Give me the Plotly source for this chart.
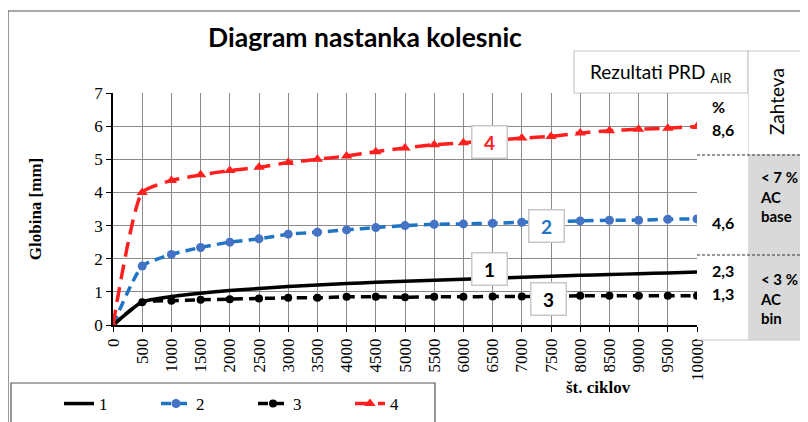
import plotly.graph_objects as go

# ---------------- data ----------------
cycles = [0, 500, 1000, 1500, 2000, 2500, 3000, 3500, 4000, 4500, 5000,
          5500, 6000, 6500, 7000, 7500, 8000, 8500, 9000, 9500, 10000]
s1 = [0, 0.70, 0.86, 0.96, 1.04, 1.10, 1.16, 1.21, 1.25, 1.29, 1.32,
      1.35, 1.38, 1.41, 1.44, 1.47, 1.50, 1.52, 1.55, 1.57, 1.60]
s2 = [0, 1.78, 2.13, 2.34, 2.50, 2.60, 2.74, 2.80, 2.87, 2.94, 3.00,
      3.04, 3.05, 3.07, 3.10, 3.12, 3.14, 3.16, 3.16, 3.19, 3.20]
s3 = [0, 0.69, 0.73, 0.76, 0.78, 0.80, 0.82, 0.82, 0.85, 0.85, 0.84,
      0.85, 0.85, 0.86, 0.86, 0.87, 0.88, 0.88, 0.88, 0.88, 0.88]
s4 = [0, 4.00, 4.36, 4.53, 4.66, 4.76, 4.90, 5.00, 5.10, 5.23, 5.34,
      5.44, 5.50, 5.57, 5.64, 5.69, 5.79, 5.86, 5.91, 5.94, 5.99]
series_names = ["1", "2", "3", "4"]
x_ticks = list(range(0, 10001, 500))
y_ticks = list(range(0, 8))

title_text = "Diagram nastanka kolesnic"
x_title = "št. ciklov"
y_title = "Globina [mm]"
table_header = "Rezultati PRD <sub>AIR</sub>"
table_req = "Zahteva"
prd_values = ["%", "8,6", "4,6", "2,3", "1,3"]
req_texts = ["&lt; 7 %<br>AC<br>base", "&lt; 3 %<br>AC<br>bin"]

# ---------------- layout geometry ----------------
# page body has an 8px margin; reference pixel coords are converted below
OFF = 8
W, H = 808 - OFF, 422 - OFF
L, R, T, B = 113 - OFF, 697 - OFF, 93 - OFF, 325 - OFF
PW, PH = R - L, B - T


def px(x):
    return (x - OFF - L) / PW


def py(y):
    return (B - (y - OFF)) / PH


SERIF = "Liberation Serif"
SANS = "Lato"

fig = go.Figure()
fig.add_trace(go.Scatter(x=cycles, y=s1, name=series_names[0], mode="lines",
                         line=dict(color="black", width=3.5, shape="spline", smoothing=0.5)))
fig.add_trace(go.Scatter(x=cycles, y=s2, name=series_names[1], mode="lines+markers",
                         line=dict(color="#1f74c4", width=3.5, dash="10px,6px", shape="spline", smoothing=0.5),
                         marker=dict(symbol="circle", size=9, color="#4472c4")))
fig.add_trace(go.Scatter(x=cycles, y=s3, name=series_names[2], mode="lines+markers",
                         line=dict(color="black", width=3.5, dash="10px,6px", shape="spline", smoothing=0.5),
                         marker=dict(symbol="circle", size=8, color="black")))
fig.add_trace(go.Scatter(x=cycles, y=s4, name=series_names[3], mode="lines+markers",
                         line=dict(color="#ff1f1f", width=3.5, dash="15px,8px", shape="spline", smoothing=0.5),
                         marker=dict(symbol="triangle-up", size=10, color="#ff1f1f")))

shapes = []
frame = dict(color="#555", width=1.2)
shapes.append(dict(type="line", xref="paper", yref="paper", x0=px(0), x1=px(808), y0=py(11), y1=py(11), line=frame))
shapes.append(dict(type="line", xref="paper", yref="paper", x0=px(8), x1=px(8), y0=py(11), y1=py(430), line=frame))
shapes.append(dict(type="rect", xref="paper", yref="paper", x0=px(11), x1=px(435), y0=py(383), y1=py(440),
                   line=frame, fillcolor="rgba(0,0,0,0)"))
grey_line = dict(color="#c8c8c8", width=1.2)
shapes.append(dict(type="rect", xref="paper", yref="paper", x0=px(574), x1=px(748), y0=py(51), y1=py(93),
                   line=grey_line, fillcolor="white", layer="below"))
shapes.append(dict(type="rect", xref="paper", yref="paper", x0=px(748), x1=px(812), y0=py(51), y1=py(155),
                   line=grey_line, fillcolor="white", layer="below"))
shapes.append(dict(type="rect", xref="paper", yref="paper", x0=px(698), x1=px(748), y0=py(94), y1=py(340),
                   line=dict(width=0), fillcolor="white"))
shapes.append(dict(type="rect", xref="paper", yref="paper", x0=px(748), x1=px(812), y0=py(155), y1=py(340),
                   line=dict(width=0), fillcolor="#d9d9d9"))
shapes.append(dict(type="line", xref="paper", yref="paper", x0=px(697), x1=px(808), y0=py(340), y1=py(340),
                   line=grey_line))
for yy in (155, 255):
    shapes.append(dict(type="line", xref="paper", yref="paper", x0=px(697), x1=px(808), y0=py(yy), y1=py(yy),
                       line=dict(color="#333", width=1, dash="3px,2px")))

annotations = []


def note(text, x, y, size, family=SANS, xanchor="center", align="center", angle=0, color="black"):
    annotations.append(dict(text=text, xref="paper", yref="paper", x=px(x), y=py(y), xanchor=xanchor,
                            yanchor="middle", align=align, textangle=angle, showarrow=False,
                            font=dict(family=family, size=size, color=color)))


note(f"<b>{x_title}</b>", 598, 387, 17, family=SERIF)
note(table_header, 661, 73, 19)
note(table_req, 776, 102, 19, angle=-90)
val_pos = [(106, 710), (129, 710), (222, 710), (270, 710), (293, 710)]
for txt, (yy, xx) in zip(prd_values, val_pos):
    note(f"<b>{txt}</b>", xx, yy, 16, xanchor="left", align="left")
for txt, yy in zip(req_texts, (196, 298)):
    note(f"<b>{txt}</b>", 758, yy, 15, xanchor="left", align="left")

label_info = [("4", 6440, 5.51, "#ff1f1f"), ("2", 7430, 3.0, "#1f74c4"),
              ("1", 6455, 1.70, "black"), ("3", 7450, 0.78, "black")]
for txt, xx, yy, col in label_info:
    annotations.append(dict(text=f"<b>{txt}</b>", x=xx, y=yy, xref="x", yref="y", showarrow=False,
                            xanchor="center", yanchor="middle",
                            width=32, height=29, bgcolor="white", bordercolor="#c8c8c8", borderwidth=1.5,
                            font=dict(family=SANS, size=19, color=col)))

fig.update_layout(
    width=W, height=H,
    margin=dict(l=L, r=W - R, t=T, b=H - B, autoexpand=False),
    paper_bgcolor="white", plot_bgcolor="white",
    title=dict(text=f"<b>{title_text}</b>", x=(365 - OFF) / W, xanchor="center",
               y=1 - (38 - OFF) / H, yanchor="middle",
               font=dict(family=SANS, size=26.5, color="black")),
    showlegend=True,
    legend=dict(orientation="h", x=px(59), xanchor="left", y=py(404), yanchor="middle",
                font=dict(family=SERIF, size=17, color="black"), bgcolor="rgba(0,0,0,0)",
                entrywidth=52, traceorder="normal"),
    xaxis=dict(range=[0, 10000], tickvals=x_ticks, ticktext=[str(v) for v in x_ticks], tickangle=-90,
               showgrid=True, gridcolor="#8a8a8a", gridwidth=1, showline=True, linecolor="black", linewidth=1.5,
               ticks="outside", ticklen=5, tickcolor="black", zeroline=False, automargin=False,
               tickfont=dict(family=SERIF, size=17, color="black")),
    yaxis=dict(range=[0, 7], tickvals=y_ticks, showgrid=True, gridcolor="#8a8a8a", gridwidth=1,
               showline=True, linecolor="black", linewidth=1.5, ticks="outside", ticklen=5, tickcolor="black",
               zeroline=False, automargin=False, tickfont=dict(family=SERIF, size=17, color="black"),
               title=dict(text=f"<b>{y_title}</b>", font=dict(family=SERIF, size=17, color="black"), standoff=48)),
    shapes=shapes, annotations=annotations,
)

fig.write_html("out.html")
